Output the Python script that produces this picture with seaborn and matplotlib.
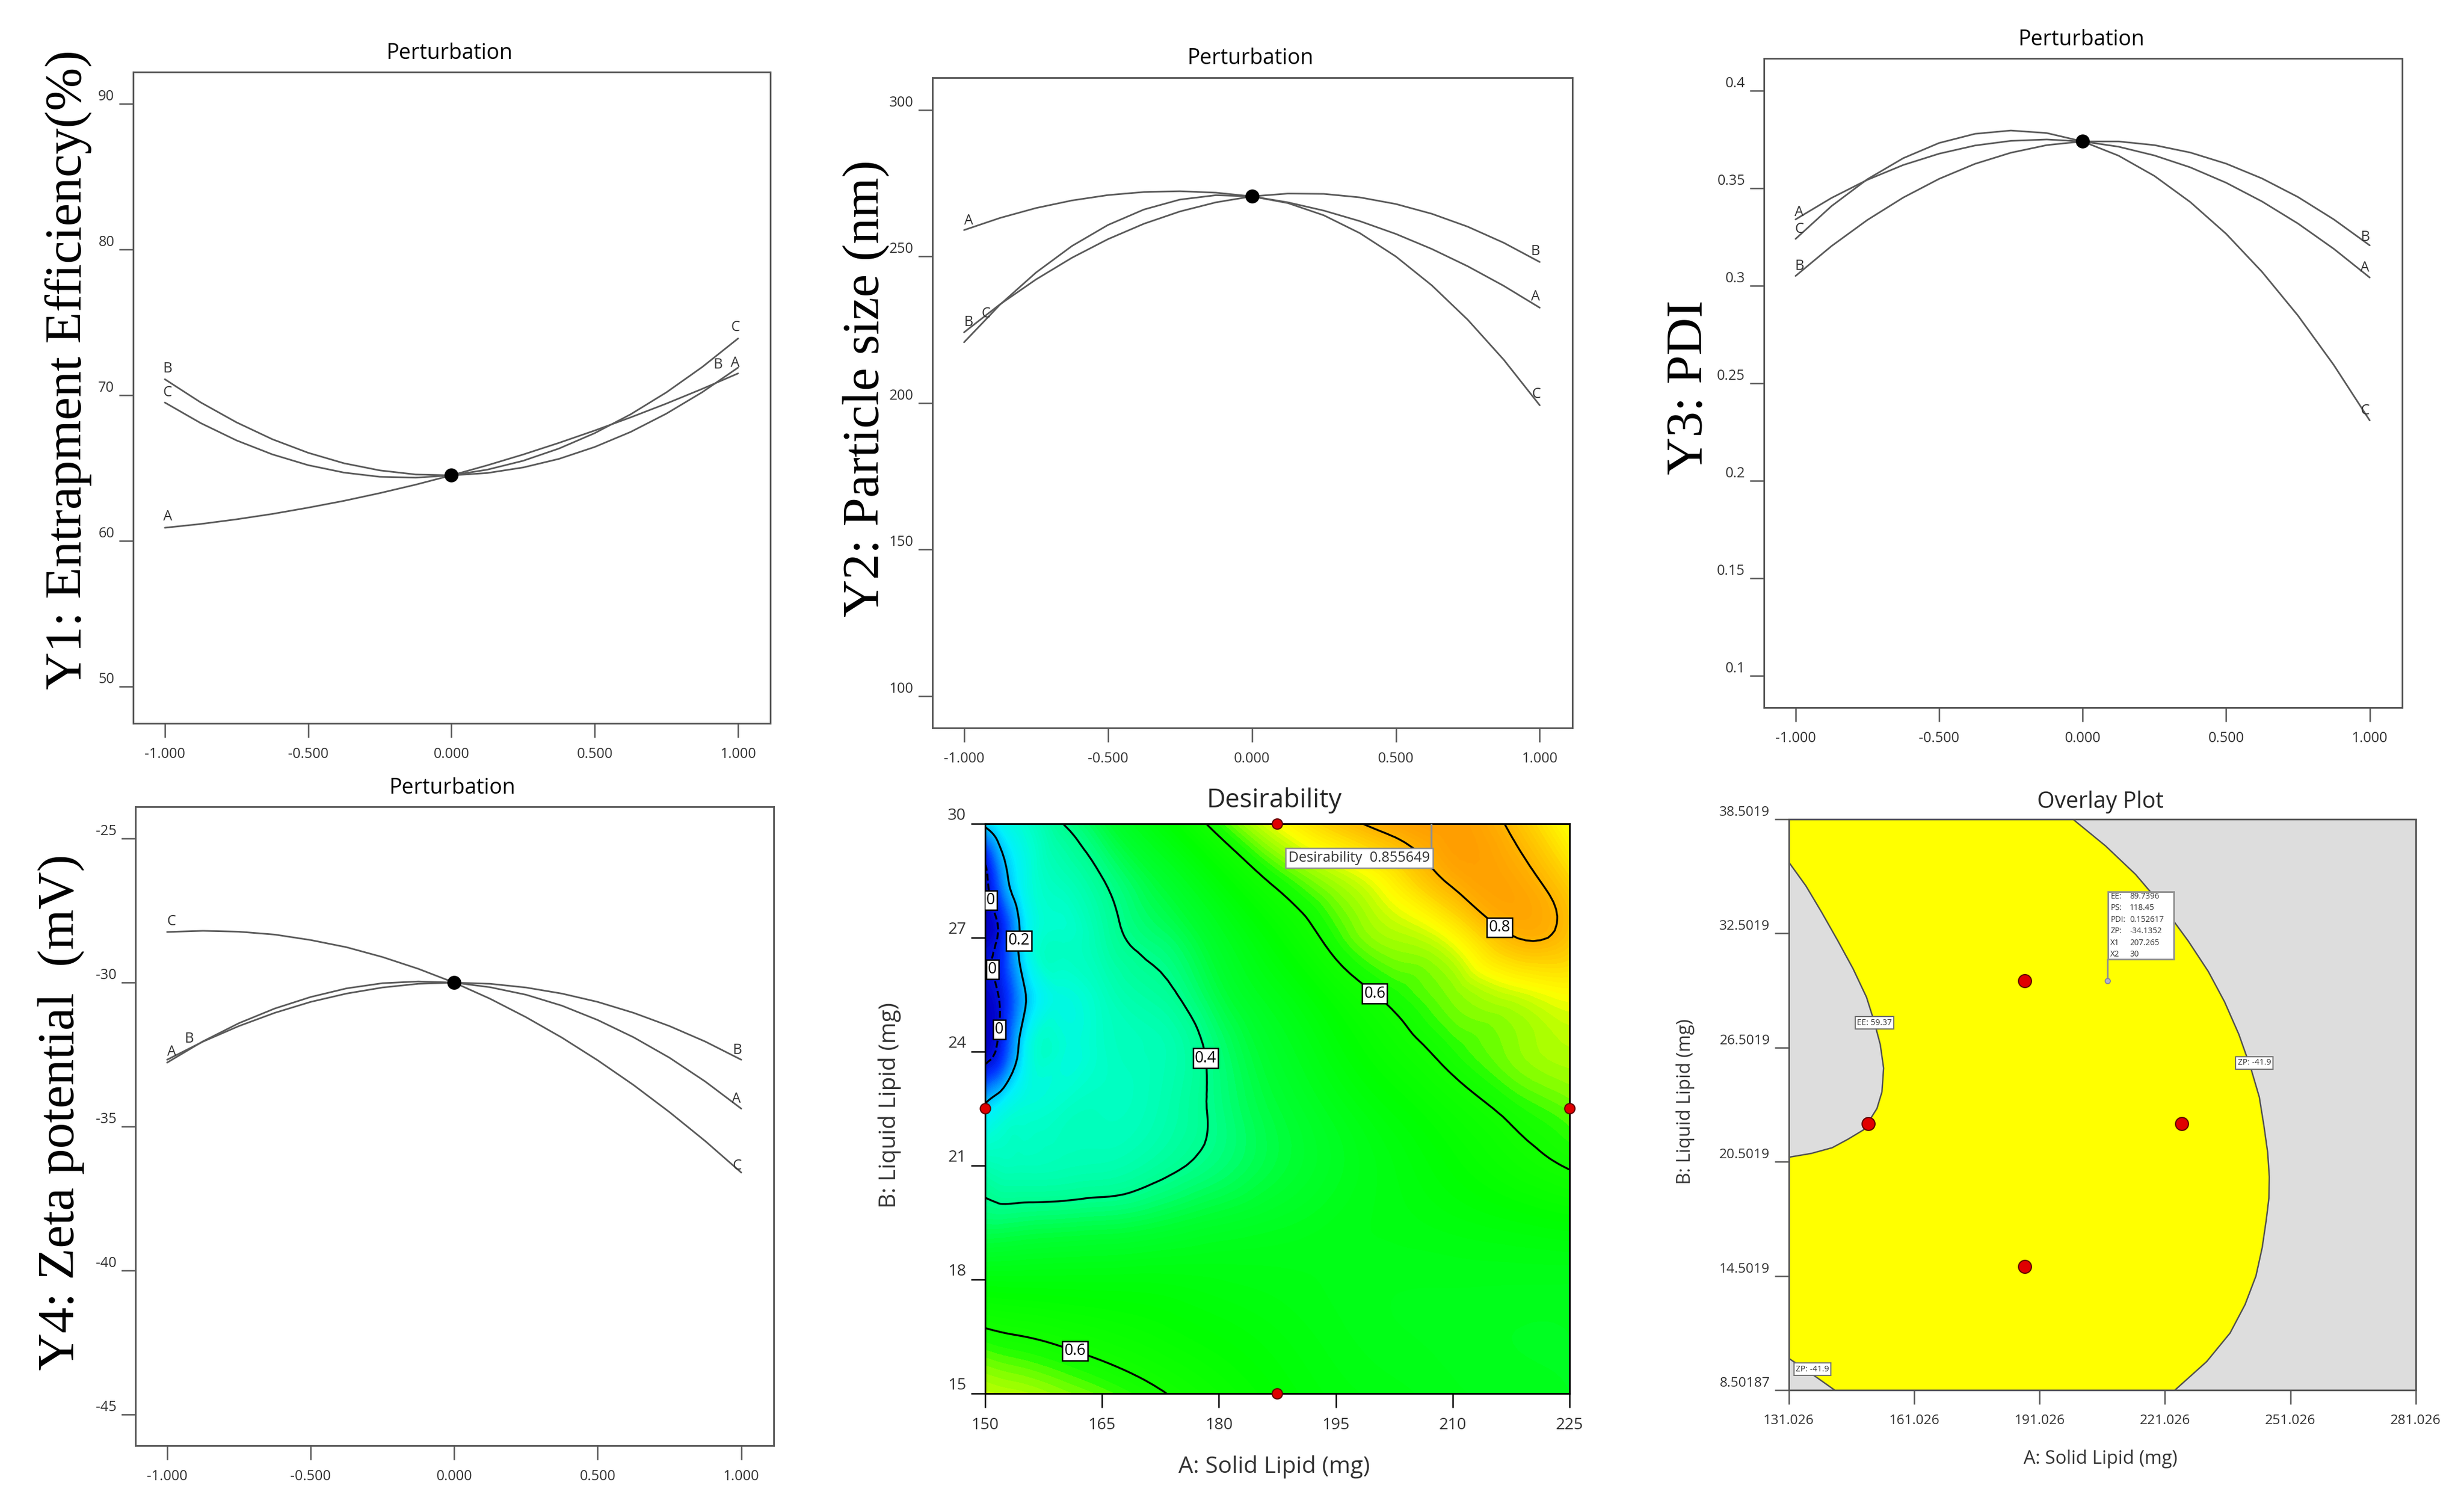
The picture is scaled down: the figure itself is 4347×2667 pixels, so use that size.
import numpy as np
import pandas as pd
import matplotlib
matplotlib.use("Agg")
import matplotlib.pyplot as plt
import matplotlib.tri as mtri
from matplotlib.colors import LinearSegmentedColormap
from matplotlib.patches import Rectangle
import seaborn as sns

# ---------------- data ----------------
# perturbation plots: deviation from the reference point (coded units)
deviation = [-1.0, -0.875, -0.75, -0.625, -0.5, -0.375, -0.25, -0.125, 0.0,
             0.125, 0.25, 0.375, 0.5, 0.625, 0.75, 0.875, 1.0]

ee_A = [60.9, 61.16, 61.48, 61.85, 62.28, 62.75, 63.28, 63.86, 64.5,
        65.19, 65.93, 66.73, 67.58, 68.48, 69.43, 70.44, 71.5]
ee_B = [71.1, 69.51, 68.14, 66.98, 66.05, 65.33, 64.84, 64.56, 64.5,
        64.66, 65.04, 65.63, 66.45, 67.48, 68.74, 70.21, 71.9]
ee_C = [69.5, 68.09, 66.9, 65.94, 65.2, 64.69, 64.4, 64.34, 64.5,
        64.89, 65.5, 66.34, 67.4, 68.69, 70.2, 71.94, 73.9]

ps_A = [259.0, 263.14, 266.52, 269.11, 270.94, 271.99, 272.26, 271.77, 270.5,
        268.46, 265.64, 262.05, 257.69, 252.55, 246.64, 239.96, 232.5]
ps_B = [224.1, 233.66, 242.15, 249.56, 255.9, 261.16, 265.35, 268.46, 270.5,
        271.46, 271.35, 270.16, 267.9, 264.56, 260.15, 254.66, 248.1]
ps_C = [220.7, 233.55, 244.5, 253.57, 260.74, 266.02, 269.41, 270.9, 270.5,
        268.21, 264.03, 257.95, 249.99, 240.13, 228.38, 214.74, 199.2]

pdi_A = [0.334, 0.345, 0.3543, 0.3619, 0.3677, 0.3719, 0.3743, 0.375, 0.374,
         0.3713, 0.3668, 0.3607, 0.3528, 0.3432, 0.3319, 0.3189, 0.3042]
pdi_B = [0.305, 0.3203, 0.3337, 0.3452, 0.3548, 0.3625, 0.3682, 0.3721, 0.374,
         0.374, 0.3721, 0.3683, 0.3626, 0.355, 0.3455, 0.334, 0.3207]
pdi_C = [0.324, 0.3408, 0.3546, 0.3654, 0.3732, 0.3779, 0.3796, 0.3783, 0.374,
         0.3667, 0.3563, 0.3429, 0.3266, 0.3071, 0.2847, 0.2593, 0.2309]

zp_A = [-32.78, -32.04, -31.41, -30.9, -30.5, -30.2, -30.02, -29.96, -30.0,
        -30.16, -30.42, -30.8, -31.3, -31.9, -32.61, -33.44, -34.38]
zp_B = [-32.68, -32.05, -31.51, -31.05, -30.67, -30.38, -30.17, -30.04, -30.0,
        -30.04, -30.17, -30.38, -30.67, -31.05, -31.51, -32.05, -32.68]
zp_C = [-28.24, -28.2, -28.23, -28.33, -28.52, -28.77, -29.11, -29.52, -30.0,
        -30.56, -31.2, -31.91, -32.7, -33.56, -34.5, -35.51, -36.6]

ee_ref, ps_ref, pdi_ref, zp_ref = 64.5, 270.5, 0.374, -30.0

# desirability surface (rows = liquid lipid, columns = solid lipid)
solid_grid = [150, 152, 155, 160, 165, 172.5, 180, 187.5, 195, 202.5, 210, 217.5, 225]
liquid_grid = [15, 16.5, 18, 19.5, 21, 22.5, 24, 25.5, 27, 28.5, 30]
desirability = [
    [0.67, 0.665, 0.66, 0.645, 0.63, 0.603, 0.575, 0.55, 0.53, 0.52, 0.51, 0.505, 0.50],
    [0.61, 0.605, 0.60, 0.59, 0.58, 0.565, 0.55, 0.535, 0.52, 0.51, 0.505, 0.50, 0.50],
    [0.53, 0.53, 0.53, 0.53, 0.53, 0.53, 0.525, 0.52, 0.515, 0.51, 0.51, 0.51, 0.51],
    [0.43, 0.43, 0.435, 0.44, 0.445, 0.46, 0.48, 0.495, 0.51, 0.52, 0.53, 0.54, 0.55],
    [0.36, 0.35, 0.35, 0.355, 0.36, 0.385, 0.42, 0.46, 0.495, 0.525, 0.553, 0.58, 0.603],
    [0.22, 0.27, 0.31, 0.33, 0.34, 0.36, 0.412, 0.465, 0.508, 0.545, 0.578, 0.61, 0.635],
    [0.0, 0.06, 0.25, 0.31, 0.33, 0.355, 0.42, 0.485, 0.535, 0.578, 0.615, 0.645, 0.665],
    [0.0, 0.04, 0.19, 0.30, 0.34, 0.385, 0.455, 0.515, 0.568, 0.612, 0.645, 0.675, 0.70],
    [0.0, 0.05, 0.24, 0.33, 0.37, 0.425, 0.49, 0.555, 0.617, 0.66, 0.70, 0.795, 0.775],
    [0.0, 0.14, 0.28, 0.35, 0.397, 0.47, 0.542, 0.61, 0.66, 0.72, 0.812, 0.83, 0.755],
    [0.22, 0.27, 0.32, 0.40, 0.455, 0.535, 0.618, 0.695, 0.77, 0.83, 0.85, 0.79, 0.69],
]

# design points and optimum
design_A = [187.5, 150, 225, 187.5]
design_B = [30, 22.5, 22.5, 15]
opt_A, opt_B, opt_D = 207.265, 30, 0.855649
opt_values = ["89.7396", "118.45", "0.152617", "-34.1352", "207.265", "30"]
opt_names = ["EE:", "PS:", "PDI:", "ZP:", "X1", "X2"]

# overlay plot boundaries
zp_right_x = [199.0, 206.8, 214.0, 220.6, 226.6, 231.4, 235.3, 238.7, 241.6, 243.6, 244.7,
              245.6, 246.0, 245.9, 245.3, 244.3, 242.8, 240.2, 236.6, 231.0, 223.4]
zp_right_y = [38.5019, 37.1, 35.6, 33.9, 32.1, 30.5, 28.9, 27.2, 25.4, 23.9, 22.4,
              21.0, 19.7, 18.6, 17.5, 16.0, 14.5, 13.0, 11.5, 10.0, 8.50187]
ee_lobe_x = [131.026, 135.1, 138.9, 142.7, 146.4, 149.6, 151.4, 152.9, 153.7, 153.3, 152.1,
             148.9, 145.2, 141.4, 136.4, 131.026]
ee_lobe_y = [36.24, 35.0, 33.6, 32.13, 30.64, 29.15, 27.9, 26.66, 25.42, 24.17, 23.3,
             22.18, 21.69, 21.24, 20.94, 20.74]
zp_corner_x = [131.026, 136.4, 142.0]
zp_corner_y = [10.17, 9.37, 8.50187]

overlay_xticks = [131.026, 161.026, 191.026, 221.026, 251.026, 281.026]
overlay_yticks = [8.50187, 14.5019, 20.5019, 26.5019, 32.5019, 38.5019]

# ---------------- style ----------------
sns.set_theme(style="ticks")
plt.rcParams["font.family"] = ["Open Sans", "DejaVu Sans"]
LINE = "#5a5a5a"
TXT = "#333333"
W, H = 4347, 2667

fig = plt.figure(figsize=(W / 300, H / 300), dpi=300)


def fx(px):
    return px / W


def fy(py):
    return 1 - py / H


def style_axes(ax, color, size, ypad=2, xpad=4):
    for s in ax.spines.values():
        s.set_visible(True)
        s.set_color(color)
        s.set_linewidth(0.7)
    ax.tick_params(axis="both", direction="out", length=6, width=0.6, color=color,
                   labelsize=size, labelcolor=TXT, bottom=True, left=True,
                   top=False, right=False)
    ax.tick_params(axis="y", pad=ypad)
    ax.tick_params(axis="x", pad=xpad)
    plt.setp(ax.get_yticklabels(), va="bottom")
    ax.set_xlabel("")
    ax.set_ylabel("")


def perturbation(rect, curves, ref, ylim, yticks, ylabels, letters):
    ax = fig.add_axes(rect)
    n = len(deviation)
    df = pd.DataFrame({
        "deviation": deviation * 3,
        "value": curves[0] + curves[1] + curves[2],
        "factor": ["A"] * n + ["B"] * n + ["C"] * n,
    })
    sns.lineplot(data=df, x="deviation", y="value", hue="factor", palette=[LINE] * 3,
                 linewidth=0.7, legend=False, ax=ax)
    sns.scatterplot(x=[0.0], y=[ref], color="black", edgecolor="black", s=30,
                    zorder=5, ax=ax)
    for letter, x, y in letters:
        ax.text(x, y, letter, ha="center", va="center", fontsize=6, color=TXT)
    ax.set_xlim(-1.11, 1.113)
    ax.set_ylim(*ylim)
    ax.set_xticks([-1, -0.5, 0, 0.5, 1])
    ax.set_xticklabels(["-1.000", "-0.500", "0.000", "0.500", "1.000"])
    ax.set_yticks(yticks)
    ax.set_yticklabels(ylabels)
    style_axes(ax, "#555555", 6)
    return ax


perturbation([0.0541, 0.5216, 0.2586, 0.4308], [ee_A, ee_B, ee_C], ee_ref,
             (47.47, 92.2), [50, 60, 70, 80, 90], ["50", "60", "70", "80", "90"],
             [("A", -0.99, 61.66), ("B", -0.99, 71.83), ("C", -0.99, 70.2),
              ("C", 0.99, 74.64), ("B", 0.93, 72.1), ("A", 0.99, 72.2)])
perturbation([0.3784, 0.5186, 0.2597, 0.4300], [ps_A, ps_B, ps_C], ps_ref,
             (89.1, 311), [100, 150, 200, 250, 300], ["100", "150", "200", "250", "300"],
             [("A", -0.984, 262.1), ("B", -0.984, 227.5), ("C", -0.924, 230.4),
              ("B", 0.985, 251.8), ("A", 0.985, 236.3), ("C", 0.989, 203.0)])
perturbation([0.7159, 0.5321, 0.2590, 0.4293], [pdi_A, pdi_B, pdi_C], pdi_ref,
             (0.0837, 0.4166), [0.1, 0.15, 0.2, 0.25, 0.3, 0.35, 0.4],
             ["0.1", "0.15", "0.2", "0.25", "0.3", "0.35", "0.4"],
             [("A", -0.987, 0.3376), ("C", -0.987, 0.329), ("B", -0.987, 0.3099),
              ("B", 0.984, 0.3249), ("A", 0.982, 0.3091), ("C", 0.984, 0.2358)])
perturbation([0.0550, 0.0439, 0.2590, 0.4225], [zp_A, zp_B, zp_C], zp_ref,
             (-46.09, -23.89), [-45, -40, -35, -30, -25], ["-45", "-40", "-35", "-30", "-25"],
             [("C", -0.985, -27.88), ("B", -0.923, -31.95), ("A", -0.985, -32.41),
              ("B", 0.985, -32.34), ("A", 0.982, -34.05), ("C", 0.985, -36.36)])

# titles and big response labels
for px, py, t in [(793, 94, "Perturbation"), (2206, 103, "Perturbation"),
                  (3672, 70, "Perturbation"), (798, 1390, "Perturbation")]:
    fig.text(fx(px), fy(py), t, ha="center", va="center", fontsize=9, color="black")
fig.text(fx(2248), fy(1412), "Desirability", ha="center", va="center", fontsize=11)
fig.text(fx(3705), fy(1415), "Overlay Plot", ha="center", va="center", fontsize=9.5)

serif = ["Liberation Serif", "DejaVu Serif"]
for px, py, t in [(120, 652, "Y1: Entrapment Efficiency(%)"),
                  (1528, 685, "Y2: Particle size (nm)"),
                  (2981, 683, "Y3: PDI"),
                  (108, 1962, "Y4: Zeta potential  (mV)")]:
    fig.text(fx(px), fy(py), t, rotation=90, ha="center", va="center",
             fontsize=22, family=serif, color="black")

# ---------------- desirability contour ----------------
ax5 = fig.add_axes([0.3998, 0.0784, 0.2372, 0.3768])
des_cmap = LinearSegmentedColormap.from_list("desire", [
    (0.0, "#0000c8"), (0.08, "#0030ff"), (0.17, "#00a0ff"), (0.25, "#00f0ff"),
    (0.32, "#00ffd0"), (0.40, "#00ff90"), (0.47, "#00ff30"), (0.55, "#00ff00"),
    (0.615, "#18ff00"), (0.65, "#90ff00"), (0.70, "#ffff00"), (0.76, "#ffd000"),
    (0.80, "#ffb400"), (0.86, "#ff9800"), (1.0, "#ff3000")])

gA, gB = np.meshgrid(solid_grid, liquid_grid)
s0, s1, l0, l1 = solid_grid[0], solid_grid[-1], liquid_grid[0], liquid_grid[-1]
tri_n = mtri.Triangulation(((gA - s0) / (s1 - s0)).ravel(), ((gB - l0) / (l1 - l0)).ravel())
z_n = np.array(desirability).ravel()
smooth = mtri.CubicTriInterpolator(tri_n, z_n, kind="min_E")
tri_r, z_r = mtri.UniformTriRefiner(tri_n).refine_field(z_n, triinterpolator=smooth, subdiv=3)
tri_d = mtri.Triangulation(tri_r.x * (s1 - s0) + s0, tri_r.y * (l1 - l0) + l0, tri_r.triangles)

ax5.tricontourf(tri_d, z_r, levels=np.linspace(0, 1, 121), cmap=des_cmap,
                vmin=0, vmax=1, extend="both")
label_spots = {0.03: [(151.0, 28.0), (151.8, 26.2), (151.0, 24.6)],
               0.2: [(155.3, 26.9)], 0.4: [(177.5, 23.8)],
               0.6: [(199.5, 25.4), (161.5, 16.1)], 0.8: [(216.5, 27.4)]}
label_texts = []
for lev, spots in label_spots.items():
    cs = ax5.tricontour(tri_d, z_r, levels=[lev], colors="black", linewidths=0.8,
                        linestyles="--" if lev < 0.1 else "-")
    txt = "0" if lev < 0.1 else f"{lev:g}"
    label_texts += ax5.clabel(cs, manual=spots, fmt={lev: txt}, fontsize=6.5,
                              inline=False, colors="black")
for t in label_texts:
    t.set_rotation(0)
    t.set_bbox(dict(facecolor="white", edgecolor="black", linewidth=0.6, pad=0.8))
    t.set_zorder(6)

sns.scatterplot(x=design_A, y=design_B, color="#e00000", edgecolor="#600000",
                linewidth=0.5, s=19, zorder=7, clip_on=False, ax=ax5)
ax5.plot([opt_A, opt_A], [opt_B, 28.8], color="#909090", lw=0.8, zorder=6)
ax5.text(opt_A - 0.15, 29.1, f"Desirability  {opt_D:g}", ha="right", va="center",
         fontsize=6, color=TXT, zorder=7,
         bbox=dict(facecolor="white", edgecolor="#909090", linewidth=0.6, pad=1.2))
ax5.set_xlim(150, 225)
ax5.set_ylim(15, 30)
ax5.set_xticks([150, 165, 180, 195, 210, 225])
ax5.set_yticks([15, 18, 21, 24, 27, 30])
style_axes(ax5, "black", 6.8)
fig.text(fx(2248), fy(2587), "A: Solid Lipid (mg)", ha="center", va="center", fontsize=9.8, color=TXT)
fig.text(fx(1570), fy(1950), "B: Liquid Lipid (mg)", ha="center", va="center",
         rotation=90, fontsize=9.8, color=TXT)

# ---------------- overlay plot ----------------
ax6 = fig.add_axes([0.7260, 0.0806, 0.2544, 0.3776])
ax6.set_facecolor("#dddddd")
poly_x = [131.026] + zp_right_x + zp_corner_x[::-1] + ee_lobe_x[::-1]
poly_y = [38.5019] + zp_right_y + zp_corner_y[::-1] + ee_lobe_y[::-1]
ax6.fill(poly_x, poly_y, color="#ffff00", lw=0, zorder=1)
for bx, by in [(zp_right_x, zp_right_y), (ee_lobe_x, ee_lobe_y), (zp_corner_x, zp_corner_y)]:
    sns.lineplot(x=bx, y=by, sort=False, estimator=None, color="#505050",
                 linewidth=0.6, ax=ax6, zorder=2)

small_box = dict(facecolor="white", edgecolor="#707070", linewidth=0.5, pad=0.8)
ax6.text(151.5, 27.8, "EE: 59.37", fontsize=3.5, ha="center", va="center", color=TXT, bbox=small_box, zorder=5)
ax6.text(242.4, 25.7, "ZP: -41.9", fontsize=3.5, ha="center", va="center", color=TXT, bbox=small_box, zorder=5)
ax6.text(136.7, 9.6, "ZP: -41.9", fontsize=3.5, ha="center", va="center", color=TXT, bbox=small_box, zorder=5)

sns.scatterplot(x=design_A, y=design_B, color="#e00000", edgecolor="#600000",
                linewidth=0.5, s=30, zorder=6, ax=ax6)
ax6.plot([opt_A, opt_A], [opt_B, opt_B + 1.13], color="#909090", lw=0.7, zorder=5)
ax6.plot([opt_A], [opt_B], marker="o", ms=2.2, mfc="#b0b0d0", mec="#8080a0", mew=0.4, zorder=6)
ax6.add_patch(Rectangle((opt_A + 0.1, opt_B + 1.13), 15.8, 3.57, facecolor="white",
                        edgecolor="#909090", linewidth=0.7, zorder=5))
ax6.text(opt_A + 0.7, opt_B + 2.92, "\n".join(opt_names), fontsize=3.4, ha="left",
         va="center", linespacing=1.5, color=TXT, zorder=6)
ax6.text(opt_A + 5.3, opt_B + 2.92, "\n".join(opt_values), fontsize=3.4, ha="left",
         va="center", linespacing=1.5, color=TXT, zorder=6)

ax6.set_xlim(131.026, 281.026)
ax6.set_ylim(8.50187, 38.5019)
ax6.set_xticks(overlay_xticks)
ax6.set_xticklabels([f"{v:.3f}" for v in overlay_xticks])
ax6.set_yticks(overlay_yticks)
ax6.set_yticklabels(["8.50187", "14.5019", "20.5019", "26.5019", "32.5019", "38.5019"])
style_axes(ax6, "#555555", 5.8)
fig.text(fx(3706), fy(2573), "A: Solid Lipid (mg)", ha="center", va="center", fontsize=7.9, color=TXT)
fig.text(fx(2974), fy(1943), "B: Liquid Lipid (mg)", ha="center", va="center",
         rotation=90, fontsize=7.9, color=TXT)

fig.savefig("out.png", dpi=300, facecolor="white")
